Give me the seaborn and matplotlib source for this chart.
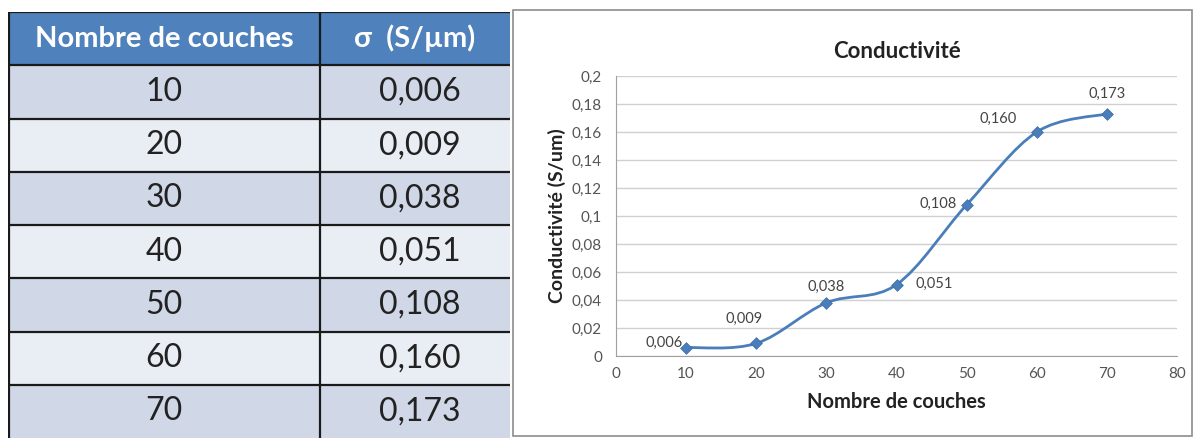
import numpy as np
import pandas as pd
import matplotlib
matplotlib.use("Agg")
import matplotlib.pyplot as plt
import seaborn as sns
from matplotlib.path import Path
from matplotlib.patches import PathPatch, Rectangle

# Data
couches = [10, 20, 30, 40, 50, 60, 70]
sigma = [0.006, 0.009, 0.038, 0.051, 0.108, 0.160, 0.173]
sigma_txt = ["0,006", "0,009", "0,038", "0,051", "0,108", "0,160", "0,173"]
header = ["Nombre de couches", "σ  (S/µm)"]
y_ticks = [0, 0.02, 0.04, 0.06, 0.08, 0.1, 0.12, 0.14, 0.16, 0.18, 0.2]
x_ticks = [0, 10, 20, 30, 40, 50, 60, 70, 80]

df = pd.DataFrame({"couches": couches, "sigma": sigma})

sns.set_style("white")
plt.rcParams["font.family"] = ["Lato", "DejaVu Sans"]

fig = plt.figure(figsize=(11.95, 4.38), dpi=100)
W, H = 1195, 438

# ---- Table ----
ax_t = fig.add_axes([8 / W, 0, 502 / W, (438 - 12) / H])
ax_t.set_xlim(0, 502)
ax_t.set_ylim(0, 426)
ax_t.axis("off")
row_h = 426 / 8
col_x = [0, 312, 502]
blue = "#4F81BD"
dark_row = "#D0D8E8"
light_row = "#E9EDF4"

ax_t.add_patch(Rectangle((0, 426 - row_h), 502, row_h, facecolor=blue, edgecolor="none"))
for j, h in enumerate(header):
    ax_t.text((col_x[j] + col_x[j + 1]) / 2, 426 - row_h / 2, h, color="white",
              fontsize=21, fontweight="bold", ha="center", va="center")

for i, (c, s) in enumerate(zip(couches, sigma_txt)):
    top = 426 - row_h * (i + 1)
    fc = dark_row if i % 2 == 0 else light_row
    ax_t.add_patch(Rectangle((0, top - row_h), 502, row_h, facecolor=fc, edgecolor="none"))
    ax_t.text((col_x[0] + col_x[1]) / 2, top - row_h / 2, str(c), fontsize=23,
              color="#222222", ha="center", va="center")
    ax_t.text((col_x[1] + col_x[2]) / 2 + 5, top - row_h / 2, s, fontsize=23,
              color="#222222", ha="center", va="center")
    ax_t.plot([0, 502], [top, top], color="#1a1a1a", lw=1.6)
ax_t.plot([0, 502], [426, 426], color="#1a1a1a", lw=1.6)
ax_t.plot([312, 312], [0, 426], color="#1a1a1a", lw=1.6)
ax_t.plot([0.8, 0.8], [0, 426], color="#1a1a1a", lw=1.6)

# ---- Chart panel border ----
fig.patches.append(Rectangle((513 / W, 2 / H), 679 / W, 426 / H, transform=fig.transFigure,
                             facecolor="none", edgecolor="#8c8c8c", lw=1.2, zorder=5))

ax = fig.add_axes([616 / W, 1 - 356 / H, 561 / W, 280 / H])
ax.patch.set_alpha(0)
ax.set_xlim(0, 80)
ax.set_ylim(0, 0.2)
ax.set_yticks(y_ticks)
ax.set_yticklabels([("%g" % v).replace(".", ",") for v in y_ticks])
ax.set_xticks(x_ticks)
ax.grid(axis="y", color="#d0d0d0", lw=1)
ax.set_axisbelow(True)
for sp in ["top", "right"]:
    ax.spines[sp].set_visible(False)
for sp in ["left", "bottom"]:
    ax.spines[sp].set_color("#a0a0a0")
ax.tick_params(axis="both", labelsize=11, colors="#555555")
ax.tick_params(axis="y", length=4, color="#a0a0a0", direction="out", pad=6)
ax.tick_params(axis="x", length=4, color="#a0a0a0", direction="out", pad=4)

# smoothed line (Excel-style bezier through the points)
pts = np.column_stack([couches, sigma])
verts = [tuple(pts[0])]
codes = [Path.MOVETO]
n = len(pts)
for i in range(n - 1):
    p0 = pts[max(i - 1, 0)]
    p1 = pts[i]
    p2 = pts[i + 1]
    p3 = pts[min(i + 2, n - 1)]
    c1 = p1 + (p2 - p0) / 6
    c2 = p2 - (p3 - p1) / 6
    verts += [tuple(c1), tuple(c2), tuple(p2)]
    codes += [Path.CURVE4] * 3
ax.add_patch(PathPatch(Path(verts, codes), facecolor="none", edgecolor="#4A7EBB", lw=2))

sns.scatterplot(data=df, x="couches", y="sigma", marker="D", s=36, color="#4A7EBB",
                edgecolor="#3a6aa5", ax=ax, zorder=3, legend=False)

# label offsets in pixels
offsets = [(-22, 5), (-12, 25), (0, 16), (38, 1), (-29, 1), (-39, 13), (0, 20)]
for x, y, t, (dx, dy) in zip(couches, sigma, sigma_txt, offsets):
    ax.annotate(t, (x, y), xytext=(dx, dy), textcoords="offset pixels", fontsize=10.5,
                color="#444444", ha="center", va="center")

ax.set_title("Conductivité", fontsize=16, fontweight="bold", color="#222222", pad=13)
ax.set_xlabel("Nombre de couches", fontsize=14.5, fontweight="bold", color="#222222", labelpad=8)
ax.set_ylabel("Conductivité (S/um)", fontsize=14, fontweight="bold", color="#222222", labelpad=4)

fig.savefig("out.png", dpi=100, facecolor="white")
